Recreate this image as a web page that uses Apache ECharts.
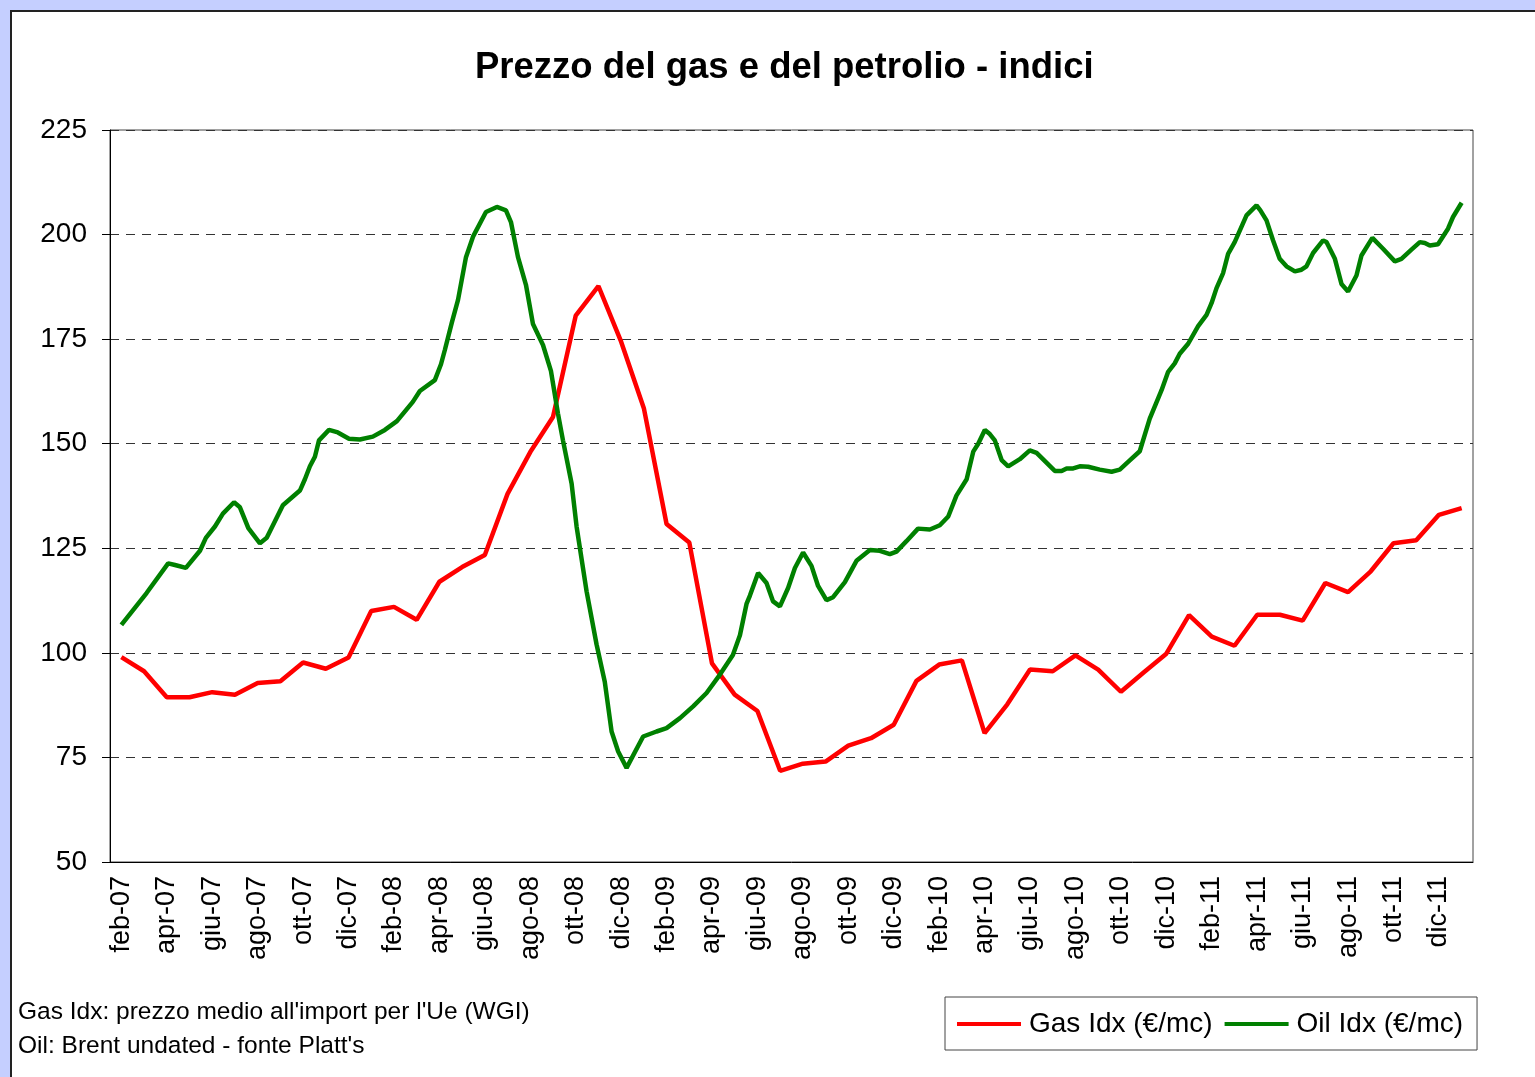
<!DOCTYPE html>
<html>
<head>
<meta charset="utf-8" />
<title>Prezzo del gas e del petrolio - indici</title>
<script src="https://cdn.jsdelivr.net/npm/echarts@6/dist/echarts.min.js"></script>
<style type="text/css">
body, html {
	margin: 0;
	padding: 0;
	background-color: #C5CFFF;
	overflow: hidden;
}

#frame {
	position: absolute;
	left: 10px;
	top: 10px;
	width: 1540px;
	height: 1080px;
	background-color: white;
	border-left: 2px solid #222;
	border-top: 2px solid #222;
}

#chart {
	position: absolute;
	left: 0;
	top: 0;
	width: 1535px;
	height: 1077px;
}
</style>
</head>
<body>
	<div id="frame"></div>
	<div id="chart"></div>
	<script>
		// mesi e anni (feb-07 ... gen-12)
		let monthNames = ['gen', 'feb', 'mar', 'apr', 'mag', 'giu', 'lug', 'ago', 'set', 'ott', 'nov', 'dic'];
		let years = ['07', '08', '09', '10', '11', '12'];

		// Gas Idx, un valore al mese
		let gasValues = [99, 95.6, 89.4, 89.4, 90.6, 90, 92.8, 93.2, 97.7, 96.2,
			98.9, 110, 111, 107.9, 117, 120.5, 123.4, 138, 148, 156.4,
			180.6, 187.7, 174.4, 158.5, 130.8, 126.4, 97.5, 90, 86.1, 71.8,
			73.5, 74, 77.8, 79.6, 82.8, 93.3, 97.2, 98.2, 80.8, 87.7,
			96, 95.6, 99.4, 96, 90.7, 95.3, 99.8, 109, 103.9, 101.7,
			109.1, 109.1, 107.7, 116.7, 114.5, 119.5, 126.2, 126.9, 133, 134.6];

		// Oil Idx: mesi trascorsi da feb-07 (frazionari) e valori
		let oilT = [0, 1.11, 2.06, 2.36, 2.84, 3.46, 3.72, 4.12, 4.47, 4.96,
			5.22, 5.59, 6.10, 6.40, 7.11, 7.86, 8.08, 8.30, 8.52, 8.70,
			9.14, 9.53, 10.02, 10.50, 11.07, 11.60, 12.13, 12.83, 13.14, 13.80,
			14.07, 14.24, 14.55, 14.82, 15.17, 15.48, 16.05, 16.53, 16.93, 17.15,
			17.46, 17.81, 18.12, 18.56, 18.91, 19.22, 19.44, 19.82, 20.04, 20.48,
			20.92, 21.28, 21.58, 21.87, 22.24, 22.97, 23.56, 24.00, 24.59, 25.17,
			25.76, 26.35, 26.92, 27.23, 27.52, 27.67, 28.03, 28.40, 28.69, 28.99,
			29.35, 29.65, 30.01, 30.38, 30.67, 31.04, 31.33, 31.85, 32.36, 32.95,
			33.39, 33.83, 34.12, 34.56, 35.07, 35.59, 36.03, 36.40, 36.76, 37.21,
			37.50, 37.72, 38.01, 38.23, 38.45, 38.75, 39.04, 39.55, 39.99, 40.29,
			41.09, 41.39, 41.61, 41.90, 42.19, 42.56, 43.07, 43.59, 43.95, 44.39,
			44.83, 45.27, 45.79, 46.08, 46.37, 46.59, 46.96, 47.40, 47.77, 47.99,
			48.21, 48.50, 48.72, 49.01, 49.53, 49.97, 50.14, 50.41, 50.70, 50.99,
			51.29, 51.66, 51.95, 52.17, 52.46, 52.90, 53.05, 53.42, 53.71, 54.00,
			54.37, 54.59, 55.07, 55.54, 56.06, 56.35, 56.79, 57.16, 57.38, 57.60,
			57.96, 58.40, 58.62, 59.0];
		let oilV = [106.7, 114.3, 121.4, 121, 120.3, 124.4, 127.5, 130.2, 133.3, 136,
			134.8, 129.8, 126.2, 127.5, 135.3, 138.8, 141.5, 144.6, 146.9, 150.8,
			153.3, 152.7, 151.2, 151, 151.7, 153.3, 155.4, 160, 162.6, 165.2,
			169, 172.4, 179, 184.4, 194.6, 199.5, 205.4, 206.6, 205.8, 203,
			194.6, 188, 178.6, 173.6, 167.4, 157.2, 150.8, 140.5, 130.2, 114.7,
			102, 93.1, 81.2, 76.4, 72.5, 80, 81.2, 82, 84.4, 87.2,
			90.4, 94.8, 99.5, 104.2, 111.7, 113.7, 119.1, 116.7, 112.3, 111.1,
			115.5, 120.3, 124, 120.8, 116, 112.6, 113.3, 116.9, 122, 124.6,
			124.4, 123.6, 124.2, 126.7, 129.7, 129.5, 130.5, 132.6, 137.6, 141.5,
			148.1, 150, 153.3, 152.3, 150.8, 146.1, 144.6, 146.3, 148.4, 147.8,
			143.5, 143.5, 144.1, 144.1, 144.6, 144.5, 143.8, 143.3, 143.8, 146,
			148.2, 156, 162.8, 167.2, 169.2, 171.5, 173.9, 178.1, 180.8, 183.6,
			187.2, 190.8, 195.4, 198.2, 204.6, 207, 205.8, 203.4, 198.6, 194.2,
			192.4, 191.2, 191.6, 192.4, 195.6, 198.6, 198.2, 194.2, 188.2, 186.4,
			190.2, 195, 199.2, 196.6, 193.6, 194.2, 196.4, 198.2, 198, 197.4,
			197.7, 201.4, 204.2, 207.6];

		let categories = [];
		for (let i = 0; i < gasValues.length; i++) {
			let m = (1 + i) % 12;
			let y = Math.floor((1 + i) / 12);
			categories.push(monthNames[m] + '-' + years[y]);
		}
		let oilData = [];
		for (let i = 0; i < oilT.length; i++) {
			oilData.push([oilT[i], oilV[i]]);
		}

		let font = 'Arial, "Liberation Sans", sans-serif';
		let chart = echarts.init(document.getElementById('chart'));
		chart.setOption({
			animation: false,
			//标题
			title: {
				text: 'Prezzo del gas e del petrolio - indici',
				left: 470,
				top: 44,
				textStyle: {
					fontFamily: font,
					fontSize: 36.5,
					fontWeight: 'bold',
					color: '#000'
				}
			},
			legend: {
				left: 945,
				top: 997,
				padding: [13, 14, 12, 12],
				borderColor: '#444',
				borderWidth: 1,
				itemGap: 12,
				itemWidth: 64,
				itemHeight: 4,
				icon: 'rect',
				textStyle: {
					fontFamily: font,
					fontSize: 28,
					color: '#000',
					padding: [0, 0, 0, 3]
				},
				data: ['Gas Idx (€/mc)', 'Oil Idx (€/mc)']
			},
			grid: {
				left: 110,
				right: 62,
				top: 130,
				bottom: 215,
				show: true,
				borderColor: '#444',
				borderWidth: 1
			},
			xAxis: [
				{
					type: 'category',
					data: categories,
					boundaryGap: true,
					axisLine: { lineStyle: { color: '#000', width: 1 } },
					axisTick: { interval: 1, length: 7, lineStyle: { color: '#000' } },
					axisLabel: {
						interval: 1,
						rotate: 90,
						margin: 14,
						fontFamily: font,
						fontSize: 27,
						color: '#000'
					}
				},
				{
					type: 'value',
					min: -0.5,
					max: 59.5,
					show: false
				}
			],
			yAxis: {
				type: 'value',
				min: 50,
				max: 225,
				interval: 25,
				axisLine: { show: true, onZero: false, lineStyle: { color: '#000', width: 1 } },
				axisTick: { show: true, length: 8, lineStyle: { color: '#000' } },
				axisLabel: {
					margin: 23,
					fontFamily: font,
					fontSize: 28,
					color: '#000'
				},
				splitLine: {
					lineStyle: { color: '#333', type: [9, 7], width: 1 }
				}
			},
			graphic: [
				{
					type: 'text',
					left: 18,
					top: 1000,
					style: {
						text: "Gas Idx: prezzo medio all'import per l'Ue (WGI)",
						font: '24.5px ' + font,
						fill: '#000'
					}
				},
				{
					type: 'text',
					left: 18,
					top: 1034,
					style: {
						text: "Oil: Brent undated - fonte Platt's",
						font: '24.5px ' + font,
						fill: '#000'
					}
				}
			],
			series: [
				{
					name: 'Gas Idx (€/mc)',
					type: 'line',
					xAxisIndex: 0,
					data: gasValues,
					showSymbol: false,
					color: '#FF0000',
					lineStyle: { width: 4.5, color: '#FF0000' }
				},
				{
					name: 'Oil Idx (€/mc)',
					type: 'line',
					xAxisIndex: 1,
					data: oilData,
					showSymbol: false,
					color: '#008000',
					lineStyle: { width: 4.5, color: '#008000' }
				}
			]
		});
	</script>
</body>
</html>
